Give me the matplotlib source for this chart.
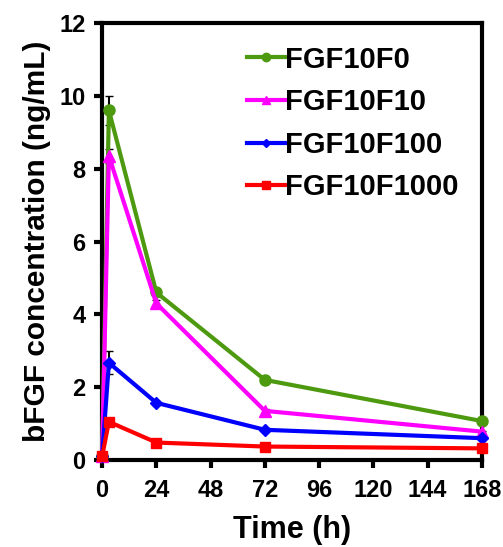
import matplotlib
matplotlib.use('Agg')
from matplotlib import pyplot as plt
from matplotlib.lines import Line2D

plt.rcParams['font.family'] = ['Liberation Sans', 'DejaVu Sans']
plt.rcParams['font.weight'] = 'bold'

tiempos = [0, 3, 24, 72, 168]
series = ['FGF10F0', 'FGF10F10', 'FGF10F100', 'FGF10F1000']
f0 = [0.1, 9.6, 4.6, 2.2, 1.07]
f10 = [0.1, 8.35, 4.3, 1.35, 0.78]
f100 = [0.1, 2.67, 1.57, 0.83, 0.6]
f1000 = [0.1, 1.05, 0.48, 0.37, 0.32]
err_f0 = [0.02, 0.4, 0.1, 0.05, 0.05]
err_f10 = [0.02, 0.2, 0.1, 0.05, 0.03]
err_f100 = [0.02, 0.32, 0.05, 0.04, 0.03]
err_f1000 = [0.02, 0.1, 0.03, 0.02, 0.02]

colores = ['#4d9a10', '#ff00ff', '#0000ff', '#ff0000']
marcadores = ['o', '^', 'D', 's']
tamanios = [8, 8, 6, 7]

fig = plt.figure(figsize=(5.03, 5.47), dpi=100)
ax = fig.add_axes([0.203, 0.159, 0.755, 0.799])

datos = [f0, f10, f100, f1000]
errores = [err_f0, err_f10, err_f100, err_f1000]
handles = []
for nombre, y, e, c, m, s in zip(series, datos, errores, colores, marcadores, tamanios):
    ax.errorbar(tiempos, y, yerr=e, color=c, marker=m, markersize=s, linewidth=3,
                ecolor='black', elinewidth=1.5, capsize=3, zorder=3, clip_on=False)
    handles.append(Line2D([], [], color=c, marker=m, markersize=s * 0.75, linewidth=3, label=nombre))

ax.set_xlim(0, 168)
ax.set_ylim(0, 12)
ax.set_xticks(range(0, 169, 24))
ax.set_yticks(range(0, 13, 2))
ax.tick_params(direction='out', width=3, length=6, labelsize=17)
ax.tick_params(axis='x', pad=8)
ax.tick_params(axis='y', pad=6)
for lbl in ax.get_xticklabels() + ax.get_yticklabels():
    lbl.set_fontweight('bold')
for sp in ax.spines.values():
    sp.set_linewidth(3)

ax.set_xlabel('Time (h)', fontsize=22, fontweight='bold', labelpad=9)
ax.set_ylabel('bFGF concentration (ng/mL)', fontsize=21.5, fontweight='bold', labelpad=6)

leg = ax.legend(handles=handles, loc='upper left', frameon=False, fontsize=21, handlelength=1.3,
                handletextpad=0.0, labelspacing=0.5, borderaxespad=0,
                bbox_to_anchor=(0.35, 0.975))
for t in leg.get_texts():
    t.set_fontweight('bold')

plt.savefig('out.png', dpi=100)
